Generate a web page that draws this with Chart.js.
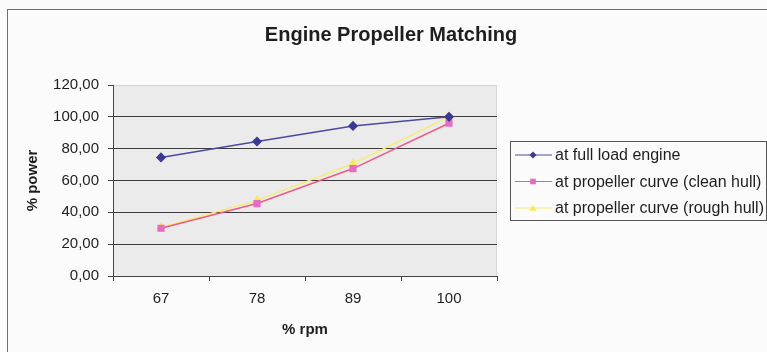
<!DOCTYPE html>
<html>
<head>
<meta charset="utf-8">
<script src="https://cdn.jsdelivr.net/npm/chart.js@4.4.1/dist/chart.umd.min.js"></script>
<style>
	html, body { margin: 0; background: #fbfbfb; }
	#wrap { width: 767px; height: 352px; }
</style>
</head>
<body>
<div id="wrap"><canvas id="matching-chart" width="767" height="352"></canvas></div>
<script>
// values
const rpmLabels = [ '67', '78', '89', '100' ];
const fullLoadEngine = [ 74.5, 84.5, 94.3, 100 ];
const cleanHull = [ 30, 45.5, 67.5, 96 ];
const roughHull = [ 30.5, 47.5, 70.5, 100 ];
const seriesNames = [
	'at full load engine',
	'at propeller curve (clean hull)',
	'at propeller curve (rough hull)',
];
const powerMin = 0;
const powerMax = 120;
const powerStep = 20;

const FONT = '"Liberation Sans", Arial, sans-serif';
const INK = '#1e1e1e';

const drawMarker = ( ctx, style, x, y, r, color ) => {
	ctx.save();
	ctx.fillStyle = color;
	ctx.beginPath();
	if ( style === 'rectRot' ) {
		ctx.moveTo( x, y - r );
		ctx.lineTo( x + r, y );
		ctx.lineTo( x, y + r );
		ctx.lineTo( x - r, y );
	} else if ( style === 'triangle' ) {
		ctx.moveTo( x, y - r );
		ctx.lineTo( x + r, y + r * 0.8 );
		ctx.lineTo( x - r, y + r * 0.8 );
	} else {
		ctx.rect( x - r * 0.8, y - r * 0.8, r * 1.6, r * 1.6 );
	}
	ctx.closePath();
	ctx.fill();
	ctx.restore();
};

const excelLook = {
	id: 'excelLook',
	beforeDraw( chart ) {
		const { ctx, chartArea: a } = chart;
		ctx.save();
		// outer chart frame
		ctx.strokeStyle = '#6f6f6f';
		ctx.lineWidth = 1;
		ctx.strokeRect( 7.5, 9.5, 800, 400 );
		// plot area
		ctx.fillStyle = '#ebebeb';
		ctx.fillRect( a.left, a.top, a.right - a.left, a.bottom - a.top );
		ctx.strokeStyle = '#d6d6d6';
		ctx.beginPath();
		ctx.moveTo( a.right - 0.5, a.top );
		ctx.lineTo( a.right - 0.5, a.bottom );
		ctx.stroke();
		ctx.restore();
	},
	afterDraw( chart ) {
		const { ctx } = chart;
		ctx.save();
		// title
		ctx.fillStyle = INK;
		ctx.font = 'bold 20px ' + FONT;
		ctx.textAlign = 'center';
		ctx.textBaseline = 'middle';
		ctx.fillText( 'Engine Propeller Matching', 391, 35 );
		// legend box
		ctx.strokeStyle = '#555';
		ctx.lineWidth = 1;
		ctx.fillStyle = '#fbfbfb';
		ctx.fillRect( 510.5, 141.5, 256, 79 );
		ctx.strokeRect( 510.5, 141.5, 256, 79 );
		ctx.font = '16px ' + FONT;
		ctx.textAlign = 'left';
		chart.data.datasets.forEach( ( ds, i ) => {
			const y = 155 + i * 26.5;
			ctx.strokeStyle = ds.borderColor;
			ctx.lineWidth = 1;
			ctx.beginPath();
			ctx.moveTo( 515, y );
			ctx.lineTo( 552, y );
			ctx.stroke();
			drawMarker( ctx, ds.pointStyle, 533, y, 3.5, ds.pointBackgroundColor );
			ctx.fillStyle = INK;
			ctx.fillText( ds.label, 555, y + 1 );
		} );
		ctx.restore();
	},
};

const makeSeries = ( label, data, line, point, style ) => ( {
	label: label,
	data: data,
	borderColor: line,
	borderWidth: 1.5,
	pointStyle: style,
	pointRadius: 4,
	pointBackgroundColor: point,
	pointBorderColor: point,
	tension: 0,
} );

new Chart( document.getElementById( 'matching-chart' ), {
	type: 'line',
	data: {
		labels: rpmLabels,
		datasets: [
			makeSeries( seriesNames[ 0 ], fullLoadEngine, '#4a4aa0', '#3a3a90', 'rectRot' ),
			makeSeries( seriesNames[ 1 ], cleanHull, '#ef5a84', '#e46cc4', 'rect' ),
			makeSeries( seriesNames[ 2 ], roughHull, '#f7eb7a', '#f9e85a', 'triangle' ),
		],
	},
	options: {
		responsive: false,
		animation: false,
		devicePixelRatio: 1,
		layout: { padding: { left: 0, right: 270, top: 85, bottom: 0 } },
		plugins: {
			legend: { display: false },
			title: { display: false },
			tooltip: { enabled: false },
		},
		scales: {
			x: {
				offset: true,
				grid: {
					offset: true,
					drawOnChartArea: false,
					tickLength: 5,
					color: '#444',
				},
				border: { color: '#444' },
				ticks: {
					color: INK,
					padding: 9,
					font: { family: FONT, size: 15 },
				},
				title: {
					display: true,
					text: '% rpm',
					color: INK,
					font: { family: FONT, size: 15, weight: 'bold' },
					padding: { top: 0, bottom: 13 },
				},
				afterFit: ( s ) => {
					s.height = 76;
				},
			},
			y: {
				min: powerMin,
				max: powerMax,
				grid: {
					color: ( c ) => ( c.tick && c.tick.value === powerMax ? '#d2d2d2' : '#3c3c3c' ),
					tickColor: '#444',
					tickLength: 5,
				},
				border: { color: '#444' },
				ticks: {
					stepSize: powerStep,
					color: INK,
					padding: 9,
					font: { family: FONT, size: 15 },
					callback: ( v ) => v.toFixed( 2 ).replace( '.', ',' ),
				},
				title: {
					display: true,
					text: '% power',
					color: INK,
					font: { family: FONT, size: 15, weight: 'bold' },
					padding: { top: 24, bottom: 0 },
				},
				afterFit: ( s ) => {
					s.width = 113;
				},
			},
		},
	},
	plugins: [ excelLook ],
} );
</script>
</body>
</html>
